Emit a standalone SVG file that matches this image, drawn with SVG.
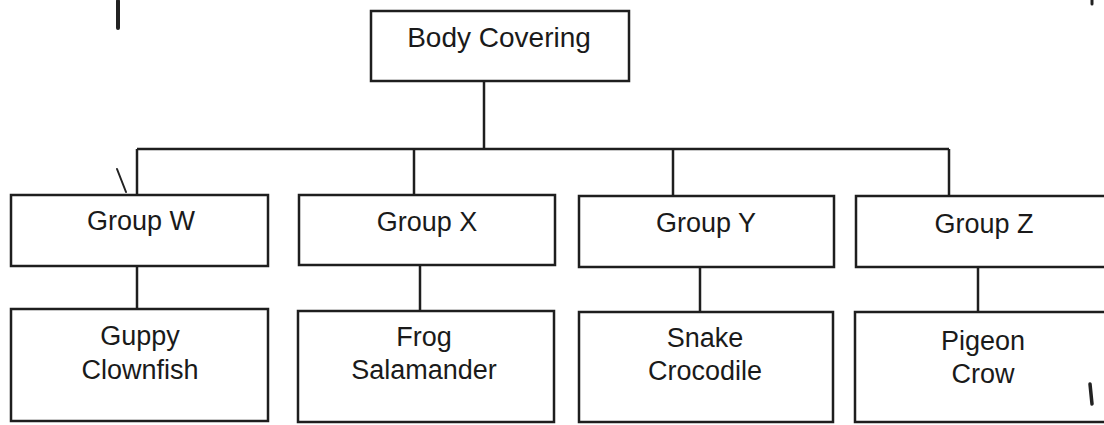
<svg xmlns="http://www.w3.org/2000/svg" width="1104" height="425" viewBox="0 0 1104 425">
<style>
.box{fill:#fff;stroke:#1e1e1e;stroke-width:2.5}
.ln{fill:none;stroke:#1e1e1e;stroke-width:2.5}
.t{font-family:"Liberation Sans",Arial,sans-serif;font-size:27px;fill:#1a1a1a;text-anchor:middle}
.mark{fill:none;stroke:#222;stroke-linecap:round}
</style>
<rect width="1104" height="425" fill="#fff"/>
<g id="connectors">
<line class="ln" x1="484" y1="81" x2="484" y2="149"/>
<line class="ln" x1="137" y1="149" x2="949" y2="149"/>
<line class="ln" x1="137" y1="149" x2="137" y2="195"/>
<line class="ln" x1="414" y1="149" x2="414" y2="195"/>
<line class="ln" x1="673" y1="149" x2="673" y2="196"/>
<line class="ln" x1="949" y1="149" x2="949" y2="196"/>
<line class="ln" x1="137" y1="266" x2="137" y2="309"/>
<line class="ln" x1="420" y1="265" x2="420" y2="311"/>
<line class="ln" x1="700" y1="267" x2="700" y2="312"/>
<line class="ln" x1="978" y1="267" x2="978" y2="312"/>
</g>
<g id="body-covering">
<rect class="box" x="371" y="11" width="258" height="70"/>
<text class="t" x="499" y="47" style="font-size:28px">Body Covering</text>
</g>
<g id="group-w">
<rect class="box" x="11" y="195" width="257" height="71"/>
<text class="t" x="141" y="230">Group W</text>
</g>
<g id="group-x">
<rect class="box" x="299" y="195" width="256" height="70"/>
<text class="t" x="427" y="231">Group X</text>
</g>
<g id="group-y">
<rect class="box" x="579" y="196" width="255" height="71"/>
<text class="t" x="706" y="232">Group Y</text>
</g>
<g id="group-z">
<rect class="box" x="856" y="196" width="260" height="71"/>
<text class="t" x="984" y="233">Group Z</text>
</g>
<g id="w-members">
<rect class="box" x="11" y="309" width="257" height="112"/>
<text class="t" x="140" y="345">Guppy</text>
<text class="t" x="140" y="379">Clownfish</text>
</g>
<g id="x-members">
<rect class="box" x="298" y="311" width="256" height="111"/>
<text class="t" x="424" y="346">Frog</text>
<text class="t" x="424" y="379">Salamander</text>
</g>
<g id="y-members">
<rect class="box" x="579" y="312" width="254" height="110"/>
<text class="t" x="705" y="347">Snake</text>
<text class="t" x="705" y="380">Crocodile</text>
</g>
<g id="z-members">
<rect class="box" x="855" y="312" width="260" height="110"/>
<text class="t" x="983" y="350">Pigeon</text>
<text class="t" x="983" y="383">Crow</text>
</g>
<g id="marks">
<line class="mark" x1="118" y1="1" x2="118" y2="28" stroke-width="4"/>
<line class="mark" x1="117" y1="169" x2="126" y2="192" stroke-width="2"/>
<line class="mark" x1="1090" y1="384" x2="1092" y2="404" stroke-width="3.5"/>
<line class="mark" x1="1092" y1="0" x2="1092" y2="4" stroke-width="3"/>
</g>
</svg>
